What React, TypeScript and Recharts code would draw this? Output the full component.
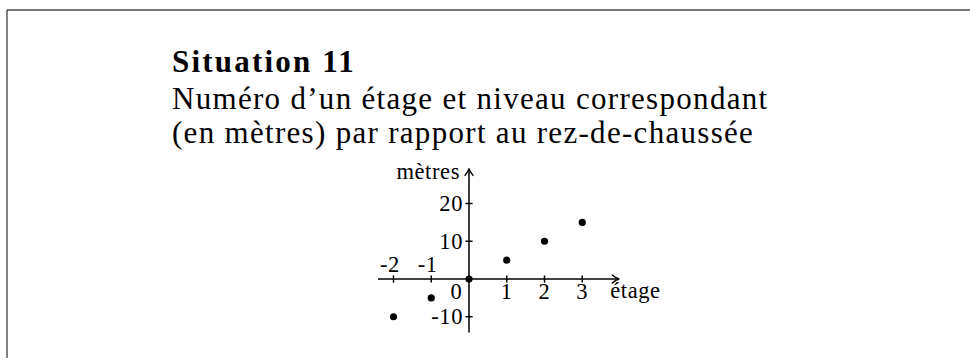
import React from 'react';
import { ScatterChart, Scatter, XAxis, YAxis, ReferenceLine, ReferenceDot } from 'recharts';

// ---- data ----
const floors = [-2, -1, 0, 1, 2, 3];
const levels = [-10, -5, 0, 5, 10, 15];
const xTicks = [-2, -1, 0, 1, 2, 3];
const xTickLabels = ['-2', '-1', '0', '1', '2', '3'];
const yTicks = [20, 10, -10];
const yTickLabels = ['20', '10', '-10'];
const xAxisName = 'étage';
const yAxisName = 'mètres';
const titleBold = 'Situation 11';
const titleLines = [
  'Numéro d\u2019un étage et niveau correspondant',
  '(en mètres) par rapport au rez-de-chaussée',
];

const data = floors.map((f, i) => ({ x: f, y: levels[i] }));

// ---- presentation ----
const W = 970;
const H = 358;
const FONT = '"Liberation Serif", "Times New Roman", serif';
const X_DOMAIN: [number, number] = [-3, 5];
const Y_DOMAIN: [number, number] = [-15, 30];
const X_AXIS_FROM = -2.41;
const X_AXIS_TO = 3.98;
const Y_AXIS_FROM = -14.2;
const Y_AXIS_TO = 29.3;

const arrowShape = (p: any) => {
  const { x1, y1, x2, y2 } = p;
  const dx = x2 - x1;
  const dy = y2 - y1;
  const len = Math.sqrt(dx * dx + dy * dy) || 1;
  const ux = dx / len;
  const uy = dy / len;
  const nx = -uy;
  const ny = ux;
  const L = 7;
  const Wd = 4;
  const ax = x2 - ux * L + nx * Wd;
  const ay = y2 - uy * L + ny * Wd;
  const bx = x2 - ux * L - nx * Wd;
  const by = y2 - uy * L - ny * Wd;
  const cx1 = x2 - ux * 3 + nx * 0.6;
  const cy1 = y2 - uy * 3 + ny * 0.6;
  const cx2 = x2 - ux * 3 - nx * 0.6;
  const cy2 = y2 - uy * 3 - ny * 0.6;
  return (
    <g>
      <line x1={x1} y1={y1} x2={x2 - ux * 1} y2={y2 - uy * 1} stroke="#000" strokeWidth={1.5} />
      <path
        d={`M${ax},${ay} Q${cx1},${cy1} ${x2},${y2} Q${cx2},${cy2} ${bx},${by}`}
        fill="none"
        stroke="#000"
        strokeWidth={1.4}
        strokeLinecap="round"
      />
    </g>
  );
};

const textLabel = (text: string, dx: number, dy: number, anchor: string) => (props: any) => {
  const vb = props.viewBox || {};
  return (
    <text
      x={vb.x + dx}
      y={vb.y + dy}
      textAnchor={anchor}
      fontFamily={FONT}
      fontSize={22.5}
      letterSpacing={0.6}
      fill="#000"
    >
      {text}
    </text>
  );
};

const dotShape = (p: any) => <circle cx={p.cx} cy={p.cy} r={3.6} fill="#000" />;

export default function App() {
  return (
    <div style={{ position: 'absolute', left: 0, top: 0, width: W, height: H, background: '#fff' }}>
      <ScatterChart
        width={W}
        height={H}
        margin={{ top: 165.75, right: 312.25, bottom: 22.375, left: 355.75 }}
      >
        <XAxis type="number" dataKey="x" domain={X_DOMAIN} hide allowDataOverflow />
        <YAxis type="number" dataKey="y" domain={Y_DOMAIN} hide allowDataOverflow />
        <ReferenceLine
          segment={[{ x: X_AXIS_FROM, y: 0 }, { x: X_AXIS_TO, y: 0 }]}
          shape={arrowShape}
          ifOverflow="visible"
        />
        <ReferenceLine
          segment={[{ x: 0, y: Y_AXIS_FROM }, { x: 0, y: Y_AXIS_TO }]}
          shape={arrowShape}
          ifOverflow="visible"
        />
        {xTicks.map((t) => (
          <ReferenceLine
            key={`xt${t}`}
            segment={[{ x: t, y: -0.95 }, { x: t, y: 0.95 }]}
            stroke="#000"
            strokeWidth={1.5}
            ifOverflow="visible"
          />
        ))}
        {yTicks.map((t) => (
          <ReferenceLine
            key={`yt${t}`}
            segment={[{ x: -0.095, y: t }, { x: 0.095, y: t }]}
            stroke="#000"
            strokeWidth={1.5}
            ifOverflow="visible"
          />
        ))}
        {xTicks.map((t, i) => {
          const above = t < 0;
          const dx = t < 0 ? -3.5 : t === 0 ? -12.5 : 0;
          const dy = above ? -7.5 : 20;
          return (
            <ReferenceDot
              key={`xl${t}`}
              x={t}
              y={0}
              r={0}
              fill="none"
              stroke="none"
              ifOverflow="visible"
              label={textLabel(xTickLabels[i], dx, dy, 'middle')}
            />
          );
        })}
        {yTicks.map((t, i) => (
          <ReferenceDot
            key={`yl${t}`}
            x={0}
            y={t}
            r={0}
            fill="none"
            stroke="none"
            ifOverflow="visible"
            label={textLabel(yTickLabels[i], -6, 7.5, 'end')}
          />
        ))}
        <ReferenceDot
          x={X_AXIS_TO}
          y={0}
          r={0}
          fill="none"
          stroke="none"
          ifOverflow="visible"
          label={textLabel(xAxisName, -9, 19, 'start')}
        />
        <ReferenceDot
          x={0}
          y={Y_AXIS_TO}
          r={0}
          fill="none"
          stroke="none"
          ifOverflow="visible"
          label={textLabel(yAxisName, -9, 11, 'end')}
        />
        <Scatter data={data} isAnimationActive={false} shape={dotShape} fill="#000" />
      </ScatterChart>
      <svg
        width={W}
        height={H}
        style={{ position: 'absolute', left: 0, top: 0, pointerEvents: 'none' }}
      >
        <line x1={7} y1={10} x2={W} y2={10} stroke="#4a4a4a" strokeWidth={1.4} />
        <line x1={7} y1={10} x2={7} y2={H} stroke="#4a4a4a" strokeWidth={1.4} />
        <text x={172} y={71.5} fontFamily={FONT} fontSize={31} fontWeight="bold" letterSpacing={2.2} fill="#000">
          {titleBold}
        </text>
        {titleLines.map((line, i) => (
          <text
            key={i}
            x={172}
            y={108.5 + i * 34.5}
            fontFamily={FONT}
            fontSize={31}
            letterSpacing={1.3}
            fill="#000"
          >
            {line}
          </text>
        ))}
      </svg>
    </div>
  );
}
